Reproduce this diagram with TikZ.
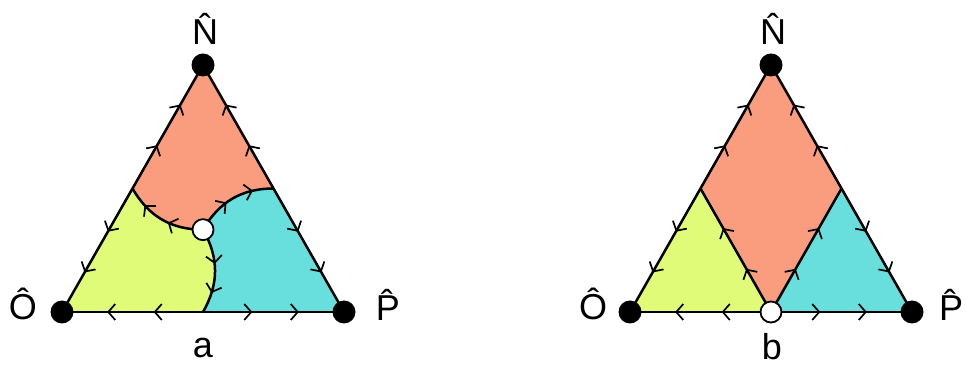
\documentclass[tikz,border=0pt]{standalone}
\usepackage{fontspec}
\setmainfont{Liberation Sans}
\usepackage{tikz}
\usetikzlibrary{calc,arrows.meta,decorations.markings}
\definecolor{topclr}{RGB}{249,157,126}
\definecolor{leftclr}{RGB}{223,251,120}
\definecolor{rightclr}{RGB}{104,222,221}
\tikzset{
  chev/.tip   = {Straight Barb[length=7pt,width=16pt,line width=1.7pt]},
  edge/.style = {line width=2.5pt, line join=round},
  flow/.style = {edge, postaction={decorate},
                 decoration={markings,
                   mark=at position 0.35 with {\arrow{chev}},
                   mark=at position 0.68 with {\arrow{chev}}}},
  cflow/.style = {edge, postaction={decorate},
                 decoration={markings,
                   mark=at position 0.42 with {\arrow{chev}},
                   mark=at position 0.76 with {\arrow{chev}}}},
  stable/.style = {circle, fill=black, inner sep=0pt, minimum size=23pt},
  saddle/.style = {circle, draw, fill=white, line width=1.8pt,
                   inner sep=0pt, minimum size=21pt},
  lbl/.style  = {font=\fontsize{36}{40}\selectfont, anchor=base},
}

\begin{document}
\begin{tikzpicture}[x=1pt,y=1pt]
        \useasboundingbox (0,0) rectangle (966,369);
        % -- Corners and edge midpoints of both triangles --------------
        \foreach \f/\dx in {a/0, b/568}{
            \coordinate (O\f) at (62+\dx,57);
            \coordinate (P\f) at (344+\dx,57);
            \coordinate (N\f) at (203+\dx,304);
            \coordinate (mL\f) at ($(O\f)!0.5!(N\f)$);
            \coordinate (mR\f) at ($(P\f)!0.5!(N\f)$);
            \coordinate (mB\f) at ($(O\f)!0.5!(P\f)$);
        }
        \coordinate (Ca) at ($(Oa)!0.6667!(mRa)$);

        % -- Triangle a: regions ---------------------------------------
        \fill[topclr] (Na) -- (mRa) to[out=180,in=60] (Ca)
            to[out=180,in=-60] (mLa) -- cycle;
        \fill[leftclr] (Oa) -- (mLa) to[out=-60,in=180] (Ca)
            to[out=-60,in=60] (mBa) -- cycle;
        \fill[rightclr] (Pa) -- (mBa) to[out=60,in=-60] (Ca)
            to[out=60,in=180] (mRa) -- cycle;
        % -- Triangle a: separatrices ----------------------------------
        \draw[cflow] (Ca) to[out=180,in=-60] (mLa);
        \draw[cflow] (Ca) to[out=60,in=180] (mRa);
        \draw[cflow] (Ca) to[out=-60,in=60] (mBa);

        % -- Triangle b: regions ---------------------------------------
        \fill[topclr] (Nb) -- (mRb) -- (mBb) -- (mLb) -- cycle;
        \fill[leftclr] (Ob) -- (mLb) -- (mBb) -- cycle;
        \fill[rightclr] (Pb) -- (mBb) -- (mRb) -- cycle;
        % -- Triangle b: separatrices ----------------------------------
        \draw[flow] (mBb) -- (mLb);
        \draw[flow] (mBb) -- (mRb);

        % -- Edges, flowing from midpoints to corners ------------------
        \foreach \f in {a,b}{
            \foreach \m/\v in {mL/N, mL/O, mR/N, mR/P, mB/O, mB/P}{
                \draw[flow] (\m\f) -- (\v\f);
            }
            \node[stable] (dO\f) at (O\f) {};
            \node[stable] (dP\f) at (P\f) {};
            \node[stable] (dN\f) at (N\f) {};
        }
        \node[saddle] (sa) at (Ca) {};
        \node[saddle] (sb) at (mBb) {};

        % -- Labels ----------------------------------------------------
        \node[lbl] (labNa) at (205,324) {\^{N}};
        \node[lbl] (labOa) at (23,49) {\^{O}};
        \node[lbl] (labPa) at (388,48) {\^{P}};
        \node[lbl] (laba) at (203,11) {a};
        \node[lbl] (labNb) at (773,324) {\^{N}};
        \node[lbl] (labOb) at (593,49) {\^{O}};
        \node[lbl] (labPb) at (951,48) {\^{P}};
        \node[lbl] (labb) at (772,9) {b};
\end{tikzpicture}
\end{document}
